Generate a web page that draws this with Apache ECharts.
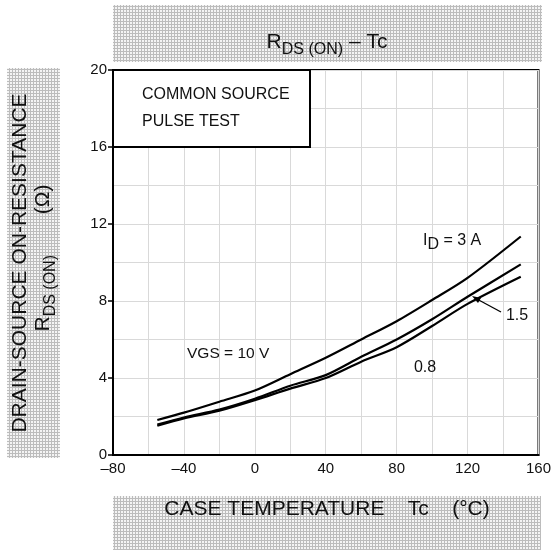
<!DOCTYPE html>
<html><head><meta charset="utf-8">
<script src="https://cdn.jsdelivr.net/npm/echarts@6/dist/echarts.min.js"></script>
<style>html,body{margin:0;padding:0;background:#fff}#c{width:554px;height:550px}</style>
</head><body><div id="c"></div>
<script>
// Data
const tempX = [-55, -40, -20, 0, 20, 40, 60, 80, 100, 120, 150];
const id3A = [1.82, 2.2, 2.77, 3.35, 4.2, 5.05, 6.0, 6.95, 8.05, 9.2, 11.35];
const id15A = [1.58, 1.95, 2.36, 2.92, 3.6, 4.15, 5.1, 6.0, 7.05, 8.22, 9.9];
const id08A = [1.52, 1.9, 2.3, 2.85, 3.45, 4.0, 4.85, 5.6, 6.7, 7.85, 9.26];
const xTicks = [-80, -40, 0, 40, 80, 120, 160];
const yTicks = [0, 4, 8, 12, 16, 20];

const FONT = 'Liberation Sans, Arial, sans-serif';
function pair(xs, ys){ return xs.map((x,i)=>[x, ys[i]]); }

// hatch pattern
const pc = document.createElement('canvas');
pc.width = 3; pc.height = 3;
const pctx = pc.getContext('2d');
pctx.fillStyle = '#f4f4f4'; pctx.fillRect(0,0,3,3);
pctx.fillStyle = '#bcbcbc'; pctx.fillRect(0,0,1,3); pctx.fillRect(0,0,3,1);
const hatch = {image: pc, repeat: 'repeat'};

const chart = echarts.init(document.getElementById('c'));
const lineStyle = {color:'#000', width:2.2};
const mk = (name, ys) => ({
  name, type:'line', data: pair(tempX, ys), smooth:0.3, showSymbol:false,
  lineStyle, z:5, animation:false
});

chart.setOption({
  animation:false,
  backgroundColor:'#fff',
  grid:{left:113, right:12, top:70, bottom:95, show:true, borderColor:'#000', borderWidth:2},
  xAxis:{type:'value', min:xTicks[0], max:xTicks[xTicks.length-1], interval:40,
    axisLine:{show:true, onZero:false, lineStyle:{color:'#000', width:2}},
    axisTick:{show:false},
    axisLabel:{color:'#111', fontSize:15, fontFamily:FONT, margin:6,
      formatter:v=>String(v).replace('-', '\u2013')},
    splitLine:{show:true, lineStyle:{color:'#d9d9d9', width:1}},
    minorTick:{show:false, splitNumber:2},
    minorSplitLine:{show:true, lineStyle:{color:'#d9d9d9', width:1}}
  },
  yAxis:{type:'value', min:yTicks[0], max:yTicks[yTicks.length-1], interval:4,
    axisLine:{show:true, onZero:false, lineStyle:{color:'#000', width:2}},
    axisTick:{show:true, length:5, lineStyle:{color:'#000', width:1.5}},
    axisLabel:{color:'#111', fontSize:15, fontFamily:FONT, margin:6},
    splitLine:{show:true, lineStyle:{color:'#d9d9d9', width:1}},
    minorTick:{show:false, splitNumber:2},
    minorSplitLine:{show:true, lineStyle:{color:'#d9d9d9', width:1}}
  },
  series:[mk('3 A', id3A), mk('1.5 A', id15A), mk('0.8 A', id08A)],
  graphic:[
    // title box
    {type:'rect', shape:{x:113, y:5, width:429, height:57}, style:{fill:hatch}, z:1},
    {type:'text', x:327, y:58, style:{
      text:'{n|R}{s|DS (ON)}{n| \u2013 Tc}', align:'center', verticalAlign:'bottom',
      rich:{n:{fontSize:21, fontFamily:FONT, fill:'#111', verticalAlign:'bottom', padding:[0,0,5,0]},
            s:{fontSize:16, fontFamily:FONT, fill:'#111', verticalAlign:'bottom'}}
    }, z:2},
    // x label box
    {type:'rect', shape:{x:113, y:496, width:428, height:54}, style:{fill:hatch}, z:1},
    {type:'text', x:327, y:509, style:{
      text:'CASE TEMPERATURE    Tc    (\u00b0C)', align:'center', verticalAlign:'middle',
      fontSize:21, fontFamily:FONT, fill:'#111'}, z:2},
    // y label box
    {type:'rect', shape:{x:7, y:68, width:53, height:390}, style:{fill:hatch}, z:1},
    {type:'text', x:20, y:263, rotation:Math.PI/2, style:{
      text:'DRAIN-SOURCE ON-RESISTANCE', align:'center', verticalAlign:'middle',
      fontSize:21, fontFamily:FONT, fill:'#111'}, z:2},
    {type:'text', x:46, y:258, rotation:Math.PI/2, style:{
      text:'{n|R}{s|DS (ON)}{n|       (\u03a9)}', align:'center', verticalAlign:'middle',
      rich:{n:{fontSize:21, fontFamily:FONT, fill:'#111', verticalAlign:'bottom', padding:[0,0,5,0]},
            s:{fontSize:16, fontFamily:FONT, fill:'#111', verticalAlign:'bottom'}}
    }, z:2},
    // legend box
    {type:'rect', shape:{x:113, y:70, width:197, height:77}, style:{fill:'#fff', stroke:'#000', lineWidth:2}, z:10},
    {type:'text', x:142, y:95, style:{text:'COMMON SOURCE', fontSize:16, fontFamily:FONT, fill:'#111', verticalAlign:'middle'}, z:11},
    {type:'text', x:142, y:122, style:{text:'PULSE TEST', fontSize:16, fontFamily:FONT, fill:'#111', verticalAlign:'middle'}, z:11},
    // annotations
    {type:'text', x:423, y:253, style:{
      text:'{n|I}{s|D}{n| = 3 A}', align:'left', verticalAlign:'bottom',
      rich:{n:{fontSize:16, fontFamily:FONT, fill:'#111', verticalAlign:'bottom', padding:[0,0,4,0]},
            s:{fontSize:16, fontFamily:FONT, fill:'#111', verticalAlign:'bottom'}}
    }, z:11},
    {type:'text', x:517, y:316, style:{text:'1.5', fontSize:16, fontFamily:FONT, fill:'#111', align:'center', verticalAlign:'middle'}, z:11},
    {type:'text', x:425, y:368, style:{text:'0.8', fontSize:16, fontFamily:FONT, fill:'#111', align:'center', verticalAlign:'middle'}, z:11},
    {type:'text', x:187, y:354, style:{text:'VGS = 10 V', fontSize:15.5, fontFamily:FONT, fill:'#111', verticalAlign:'middle'}, z:11},
    {type:'line', shape:{x1:501, y1:312, x2:475, y2:298}, style:{stroke:'#000', lineWidth:1.3}, z:11},
    {type:'polygon', shape:{points:[[472,296],[481,298],[478,303]]}, style:{fill:'#000'}, z:11}
  ]
});
</script></body></html>
